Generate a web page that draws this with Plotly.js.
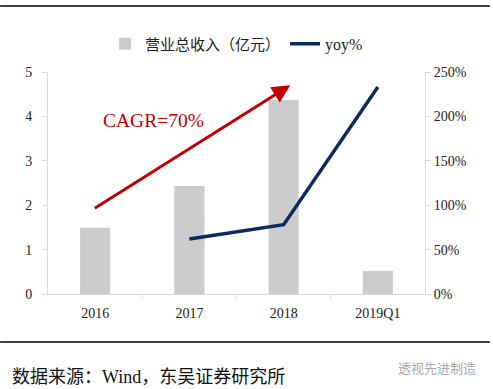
<!DOCTYPE html>
<html><head><meta charset="utf-8">
<script src="https://cdn.plot.ly/plotly-3.0.1.min.js"></script>
<style>html,body{margin:0;padding:0;background:#fff}#c{width:493px;height:389px}</style>
</head><body><div id="c"></div>
<script>
const categories = ["2016", "2017", "2018", "2019Q1"];
const revenue = [1.49, 2.43, 4.37, 0.52];
const yoyCategories = ["2017", "2018", "2019Q1"];
const yoy = [0.62, 0.78, 2.33];
const leftTicks = [0, 1, 2, 3, 4, 5];
const rightTicks = [0, 0.5, 1, 1.5, 2, 2.5];
const rightTickLabels = ["0%", "50%", "100%", "150%", "200%", "250%"];
const cagrLabel = "CAGR=70%";
const arrowStart = {x: -0.02, y: 1.91};
const arrowEnd = {x: 2.07, y: 4.7};

const serif = "Liberation Serif, Times New Roman, serif";
const cjk = "Noto Sans CJK SC, sans-serif";

const traces = [
  {type: "bar", x: categories, y: revenue, name: "营业总收入（亿元）",
   marker: {color: "#cccccc"}, width: 0.32, yaxis: "y"},
  {type: "scatter", mode: "lines", x: yoyCategories, y: yoy,
   name: "<span style=\"font-family:'Liberation Serif',serif;font-size:16px\">yoy%</span>",
   line: {color: "#0b2a5e", width: 3.5}, yaxis: "y2"}
];

const layout = {
  width: 493, height: 389,
  margin: {l: 48, r: 68, t: 72, b: 95},
  paper_bgcolor: "#fff", plot_bgcolor: "#fff",
  showlegend: true,
  legend: {orientation: "h", x: 0.5, xanchor: "center", y: 1.126, yanchor: "middle",
    font: {family: cjk, size: 15, color: "#222"}, itemwidth: 30, tracegroupgap: 0,
    traceorder: "normal"},
  xaxis: {type: "category", categoryarray: categories, categoryorder: "array",
    range: [-0.5, 3.5],
    showline: true, linecolor: "#d9d9d9", linewidth: 1,
    ticks: "", showgrid: false, zeroline: false, ticklabelstandoff: 6,
    tickfont: {family: serif, size: 14, color: "#222"}},
  yaxis: {range: [0, 5], tickvals: leftTicks, showgrid: false, zeroline: false,
    showline: true, linecolor: "#d9d9d9", ticks: "outside", tickcolor: "#d9d9d9", ticklen: 5,
    ticklabelstandoff: 7,
    tickfont: {family: serif, size: 14, color: "#222"}},
  yaxis2: {range: [0, 2.5], overlaying: "y", side: "right",
    tickvals: rightTicks, ticktext: rightTickLabels, showgrid: false, zeroline: false,
    showline: true, linecolor: "#d9d9d9", ticks: "outside", tickcolor: "#d9d9d9", ticklen: 5,
    tickfont: {family: serif, size: 14, color: "#222"}},
  shapes: [
    {type: "line", xref: "paper", yref: "paper", x0: -0.127, x1: 1.172, y0: 1.297, y1: 1.297,
     line: {color: "#000", width: 1.5}},
    {type: "line", xref: "paper", yref: "paper", x0: -0.127, x1: 1.172, y0: -0.216, y1: -0.216,
     line: {color: "#000", width: 1.5}},
    {type: "line", xref: "x", yref: "paper", x0: 0.5, x1: 0.5, y0: 0, y1: -0.02, line: {color: "#d9d9d9", width: 1}},
    {type: "line", xref: "x", yref: "paper", x0: 1.5, x1: 1.5, y0: 0, y1: -0.02, line: {color: "#d9d9d9", width: 1}},
    {type: "line", xref: "x", yref: "paper", x0: 2.5, x1: 2.5, y0: 0, y1: -0.02, line: {color: "#d9d9d9", width: 1}}
  ],
  annotations: [
    {xref: "x", yref: "y", axref: "x", ayref: "y", x: arrowEnd.x, y: arrowEnd.y,
     ax: arrowStart.x, ay: arrowStart.y, showarrow: true, arrowhead: 2, arrowsize: 1.2,
     arrowwidth: 3, arrowcolor: "#c00000", text: ""},
    {xref: "x", yref: "y", x: 0.62, y: 3.9, text: cagrLabel, showarrow: false,
     font: {family: serif, size: 19.5, color: "#c00000"}},
    {xref: "paper", yref: "paper", x: -0.1, xanchor: "left", y: -0.365, yanchor: "middle",
     text: "数据来源：<span style=\"font-family:'Liberation Serif',serif\">Wind</span>，东吴证券研究所", showarrow: false,
     font: {family: cjk, size: 18, color: "#111"}},
    {xref: "paper", yref: "paper", x: 1.14, xanchor: "right", y: -0.33, yanchor: "middle",
     text: "透视先进制造", showarrow: false,
     font: {family: cjk, size: 13, color: "#a8a8a8"}}
  ]
};

Plotly.newPlot("c", traces, layout, {displayModeBar: false, staticPlot: true});
</script></body></html>
